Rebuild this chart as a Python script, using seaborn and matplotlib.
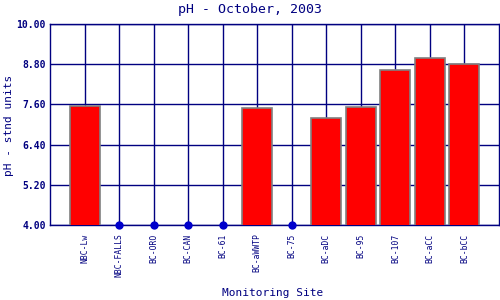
import numpy as np
import pandas as pd
import matplotlib
matplotlib.use("Agg")
import matplotlib.pyplot as plt
import seaborn as sns

sites = ["NBC-Lw", "NBC-FALLS", "BC-ORO", "BC-CAN", "BC-61", "BC-aWWTP",
         "BC-75", "BC-aDC", "BC-95", "BC-107", "BC-aCC", "BC-bCC"]
ph = [7.55, np.nan, np.nan, np.nan, np.nan, 7.48, np.nan, 7.19, 7.51, 8.62, 8.98, 8.80]
yticks = [4.0, 5.2, 6.4, 7.6, 8.8, 10.0]

navy = "#000080"
sns.set_style("white")
plt.rcParams["font.family"] = ["DejaVu Sans Mono", "DejaVu Sans"]

df = pd.DataFrame({"site": sites, "ph": ph})
missing = df[df["ph"].isna()].assign(ph=4.0)

fig = plt.figure(figsize=(5, 3), dpi=100)
ax = fig.add_axes([0.1, 0.25, 0.898, 0.67])

sns.barplot(data=df, x="site", y="ph", order=sites, color="#ff0000",
            width=0.87, edgecolor="#808080", linewidth=1.2, saturation=1,
            ax=ax, zorder=3)
sns.stripplot(data=missing, x="site", y="ph", order=sites, jitter=False,
              color="#0000cc", size=6, ax=ax, zorder=4, clip_on=False)

ax.set_xlim(-1, 12)
ax.set_ylim(4, 10)
ax.set_yticks(yticks)
ax.set_yticklabels([f"{v:.2f}" for v in yticks], fontsize=7, color=navy, fontweight="bold")
ax.set_xticks(range(len(sites)))
ax.set_xticklabels(sites, rotation=90, fontsize=5.8, color=navy)
ax.tick_params(axis="x", length=0, pad=6)
ax.tick_params(axis="y", length=0, pad=3)
ax.grid(True, color=navy, linewidth=1, zorder=0)
ax.set_axisbelow(True)
for s in ax.spines.values():
    s.set_color(navy)
    s.set_linewidth(1)
    s.set_visible(True)

ax.set_xlabel("")
ax.set_ylabel("")
fig.text(0.546, 1 - 293 / 300, "Monitoring Site", ha="center", va="center", color=navy, fontsize=8)
fig.text(0.018, 1 - 125 / 300, "pH - stnd units", ha="center", va="center", color=navy,
         fontsize=8, rotation=90)
fig.text(0.5, 0.97, "pH - October, 2003", ha="center", va="center", color=navy, fontsize=9.5)

fig.savefig("out.png", dpi=100, facecolor="white")
